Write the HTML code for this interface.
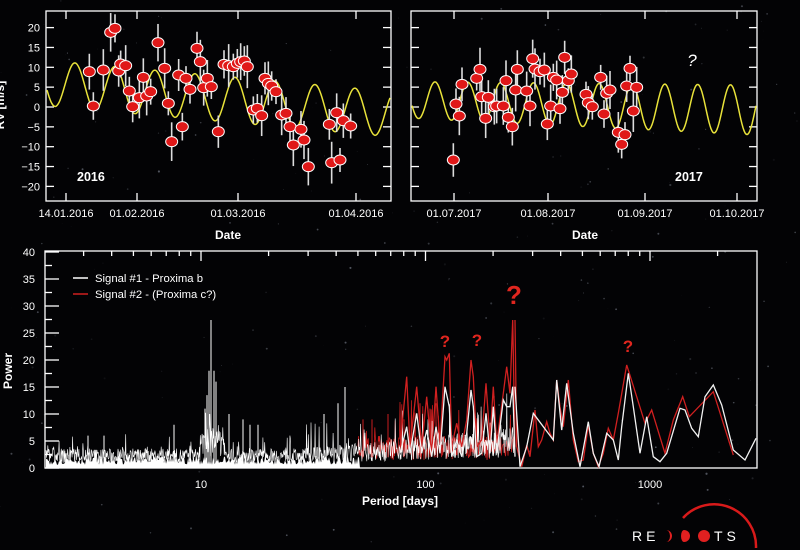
<!DOCTYPE html>
<html><head><meta charset="utf-8">
<style>
html,body{margin:0;padding:0;background:#000;}
svg{display:block;}
text{font-family:"Liberation Sans",sans-serif;}
</style></head>
<body>
<svg id="s" width="800" height="550" viewBox="0 0 800 550" xmlns="http://www.w3.org/2000/svg">
<rect width="800" height="550" fill="#030305"/>
<g id="stars"></g>
<g id="tl"></g>
<g id="tr"></g>
<g id="bot"></g>
<text x="228" y="239" fill="#fff" font-size="12" font-weight="bold" text-anchor="middle">Date</text>
<text x="585" y="239" fill="#fff" font-size="12" font-weight="bold" text-anchor="middle">Date</text>
<text x="400" y="505" fill="#fff" font-size="12" font-weight="bold" text-anchor="middle">Period [days]</text>
<text transform="translate(12,371) rotate(-90)" fill="#fff" font-size="12" font-weight="bold" text-anchor="middle">Power</text>
<text transform="translate(4,105) rotate(-90)" fill="#fff" font-size="12" font-weight="bold" text-anchor="middle">RV [m/s]</text>
<text x="77" y="181" fill="#fff" font-size="12.5" font-weight="bold">2016</text>
<text x="675" y="181" fill="#fff" font-size="12.5" font-weight="bold">2017</text>
<text x="692" y="66" fill="#fff" font-size="17" font-style="italic" text-anchor="middle">?</text>
<line x1="73" y1="278" x2="88" y2="278" stroke="#fff" stroke-width="1.5"/>
<text x="95" y="282" fill="#fff" font-size="11.3">Signal #1 - Proxima b</text>
<line x1="73" y1="294" x2="88" y2="294" stroke="#d0201e" stroke-width="1.5"/>
<text x="95" y="298" fill="#fff" font-size="11.3">Signal #2 - (Proxima c?)</text>
<g fill="#e0261f" font-weight="bold" text-anchor="middle">
<text x="445" y="347" font-size="17">?</text>
<text x="477" y="346" font-size="17">?</text>
<text x="514" y="304" font-size="26">?</text>
<text x="628" y="352" font-size="17">?</text>
</g>
<path d="M683,518 A42,42 0 0 1 756,548" fill="none" stroke="#d81a1a" stroke-width="2.5"/>
<text x="632" y="541" fill="#fff" font-size="14" letter-spacing="4">RE</text>
<path d="M666,530 a6,6 0 0 1 0,12 a4,6 0 0 0 0,-12z" fill="#e02020"/>
<path d="M684,530 a6,6 0 0 1 0,12 a3,6 0 0 1 0,-12z" fill="#e02020"/>
<circle cx="704" cy="536" r="6" fill="#e02020"/>
<text x="714" y="541" fill="#fff" font-size="14" letter-spacing="4">TS</text>
</svg>
<script>
var NS="http://www.w3.org/2000/svg";
function el(p,t,a){var e=document.createElementNS(NS,t);for(var k in a)e.setAttribute(k,a[k]);p.appendChild(e);return e;}
var seed=7;function rnd(){seed=(seed*16807)%2147483647;return (seed-1)/2147483646;}
var st=document.getElementById('stars');
for(var i=0;i<250;i++){el(st,'circle',{cx:rnd()*800,cy:rnd()*550,r:rnd()*0.9+0.2,fill:'rgba(200,210,230,'+(rnd()*0.35+0.05)+')'});}
function panel(g,x0,x1,y0,y1,labels,ticksX,showY){
  el(g,'rect',{x:x0,y:y0,width:x1-x0,height:y1-y0,fill:'none',stroke:'#fff','stroke-width':1.3});
  for(var v=-20;v<=20;v+=5){var y=107-v*3.97;
    el(g,'line',{x1:x0,x2:x0+8,y1:y,y2:y,stroke:'#fff','stroke-width':1.3});
    el(g,'line',{x1:x1-8,x2:x1,y1:y,y2:y,stroke:'#fff','stroke-width':1.3});
    if(showY){var t=el(g,'text',{x:x0-6,y:y+4,fill:'#fff','font-size':11,'text-anchor':'end'});t.textContent=(v<0?'\u2212'+(-v):v);}
  }
  ticksX.forEach(function(x,i){el(g,'line',{x1:x,x2:x,y1:y0,y2:y0+8,stroke:'#fff','stroke-width':1.3});
    el(g,'line',{x1:x,x2:x,y1:y1-8,y2:y1,stroke:'#fff','stroke-width':1.3});
    var t=el(g,'text',{x:x,y:217,fill:'#fff','font-size':11,'text-anchor':'middle'});t.textContent=labels[i];});
}
var tl=document.getElementById('tl'),tr=document.getElementById('tr');
panel(tl,46,391,11,201,['14.01.2016','01.02.2016','01.03.2016','01.04.2016'],[66,137,238,356],true);
panel(tr,411,757,11,201,['01.07.2017','01.08.2017','01.09.2017','01.10.2017'],[454,548,645,737],false);
function curve(g,x0,x1,f){var d='';for(var x=x0;x<=x1;x+=1){d+=(x==x0?'M':'L')+x+','+f(x).toFixed(1);}el(g,'path',{d:d,fill:'none',stroke:'#e8e23a','stroke-width':1.5});}
curve(tl,47,390,function(x){var z=x*3;var c=250+(z-150)/1000*90;var a=68;return (c-a*Math.cos(2*Math.PI*(z-225)/120))/3;});
curve(tr,412,756,function(x){var z=(x-400)*3;var c=300+(z-40)/1030*30;var a=55+(z-40)/1030*20;return (c-a*Math.cos(2*Math.PI*(z-105)/98.5))/3;});
var L=[[268,215],[280,318],[310,210],[332,97],[345,85],[356,213],[362,192],[377,197],[388,273],[398,320],[418,293],[430,232],[440,288],[452,275],[474,128],[494,205],[505,310],[515,425],[536,225],[547,380],[558,235],[570,268],[591,145],[601,185],[611,263],[622,235],[634,260],[655,395],[672,193],[686,197],[700,200],[712,190],[722,185],[733,183],[742,200],[760,330],[772,325],[785,347],[795,235],[805,250],[815,258],[828,275],[845,345],[858,340],[870,380],[880,435],[903,388],[912,420],[925,500],[988,373],[995,488],[1010,338],[1020,480],[1030,362],[1052,378]];
var R=[[160,480],[168,312],[178,348],[186,253],[230,235],[240,208],[245,290],[257,355],[265,292],[283,320],[290,318],[310,318],[318,242],[325,352],[337,380],[347,270],[352,208],[380,273],[390,318],[398,176],[405,207],[420,215],[433,210],[442,372],[452,318],[460,232],[470,240],[480,326],[487,277],[494,172],[505,242],[514,222],[558,283],[565,308],[577,320],[602,232],[612,342],[620,280],[630,270],[655,397],[665,433],[675,404],[680,258],[690,205],[700,333],[710,262]];
function pts(g,arr,ox){arr.forEach(function(p){var x=p[0]/3+ox,y=p[1]/3;var e=12+rnd()*10;
 el(g,'line',{x1:x,x2:x,y1:y-e,y2:y+e,stroke:'#ddd','stroke-width':1.6});});
 arr.forEach(function(p){var x=p[0]/3+ox,y=p[1]/3;el(g,'ellipse',{cx:x,cy:y,rx:6,ry:5,fill:'#e01818',stroke:'#fff','stroke-width':1});});}
pts(tl,L,0);pts(tr,R,400);
var b=document.getElementById('bot');
function X(p){return 201+(Math.log10(p)-1)*224.5;}
function Y(v){return 468-v*5.4;}
el(b,'rect',{x:45,y:251,width:712,height:217,fill:'none',stroke:'#fff','stroke-width':1.3});
for(var v=0;v<=40;v+=2.5){var y=Y(v),maj=v%5==0;el(b,'line',{x1:45,x2:45+(maj?14:7),y1:y,y2:y,stroke:'#fff','stroke-width':1.3});
 if(maj){var t=el(b,'text',{x:35,y:y+4,fill:'#fff','font-size':11,'text-anchor':'end'});t.textContent=v;}}
[1,10,100,1000].forEach(function(d){for(var k=1;k<10;k++){var x=X(d*k);if(x<45||x>757)continue;
 el(b,'line',{x1:x,x2:x,y1:251,y2:251+(k==1?10:5),stroke:'#fff','stroke-width':1.3});}});
[['10',10],['100',100],['1000',1000]].forEach(function(a){var t=el(b,'text',{x:X(a[1]),y:488,fill:'#fff','font-size':11,'text-anchor':'middle'});t.textContent=a[0];});
function dense(x0,x1,baseF,spikeF,step,pr){var d='';var first=true;
 for(var x=x0;x<x1;x+=step){var v=baseF(x)*(0.25+rnd()*0.75);if(rnd()<pr)v+=spikeF(x)*rnd();
  d+=(first?'M':'L')+x.toFixed(1)+','+Y(v).toFixed(1);first=false;}
 return d;}
var redD=dense(358,515,function(x){return 6;},function(x){return 8;},0.6,0.12);
var whD=dense(46,515,function(x){if(x>200&&x<225)return 8;if(x<300)return 3.6;return 3.6+(x-300)/215*4;},function(x){return x<300?3:8;},0.45,0.1);
el(b,'path',{d:redD,fill:'none',stroke:'#c81e1e','stroke-width':0.8});
el(b,'path',{d:whD,fill:'none',stroke:'#fff','stroke-width':0.6});
var band='M46,468';for(var x=46;x<360;x+=1){band+='L'+x+','+Y(0.6+rnd()*1.6).toFixed(1);}band+='L360,468Z';
el(b,'path',{d:band,fill:'#fff'});
[[211,27.4],[209,18],[214,18],[207,13.5],[216,16],[205,11],[229,10],[250,8],[338,12],[345,15],[324,10],[174,8],[243,9],[258,8],[88,6],[104,6]].forEach(function(p){
 el(b,'line',{x1:p[0],x2:p[0],y1:468,y2:Y(p[1]),stroke:'#fff','stroke-width':1});});
[[363,9],[372,9],[388,10],[404,9],[420,12],[430,11],[436,12]].forEach(function(p){el(b,'line',{x1:p[0],x2:p[0],y1:Y(2),y2:Y(p[1]),stroke:'#c81e1e','stroke-width':1});});
function poly(arr,col){var d='';arr.forEach(function(p,i){d+=(i?'L':'M')+(p[0]/3+400).toFixed(1)+','+(p[1]/3+240).toFixed(1);});el(b,'path',{d:d,fill:'none',stroke:col,'stroke-width':1.3});}
poly([[0,620],[20,410],[30,620],[50,440],[65,620],[80,470],[95,640],[108,440],[120,610],[135,350],[140,360],[148,340],[155,620],[170,550],[185,620],[200,540],[213,360],[220,410],[230,620],[245,600],[258,430],[270,600],[280,440],[290,610],[310,460],[320,380],[330,460],[338,240],[345,620]],'#d02020');
poly([[0,640],[20,560],[30,640],[50,520],[65,640],[80,570],[95,650],[108,560],[120,640],[135,440],[148,500],[155,650],[170,600],[185,650],[200,580],[213,450],[220,500],[230,650],[245,640],[258,520],[270,640],[280,500],[290,640],[310,480],[320,500],[330,500],[338,440],[345,650]],'#f2f2f2');
poly([[345,240],[350,620],[365,680],[380,615],[390,650],[405,510],[415,620],[425,600],[440,545],[450,580],[460,600],[470,420],[480,500],[490,560],[505,420],[520,600],[535,665],[550,660],[565,555],[580,640],[595,680],[610,640],[625,565],[640,600],[655,520],[680,375],[710,470],[735,550],[755,510],[795,640],[820,540],[848,470],[868,530],[940,455],[1000,645]],'#d02020');
poly([[345,440],[360,680],[380,620],[400,520],[430,560],[460,600],[470,420],[485,570],[500,430],[520,580],[540,680],[565,545],[580,640],[597,680],[620,580],[640,600],[655,660],[665,560],[685,400],[700,500],[720,640],[740,530],[760,650],[780,665],[800,640],[840,505],[855,510],[875,565],[895,590],[915,470],[940,435],[965,495],[1000,630],[1035,660],[1068,595]],'#f2f2f2');
</script>
</body></html>
